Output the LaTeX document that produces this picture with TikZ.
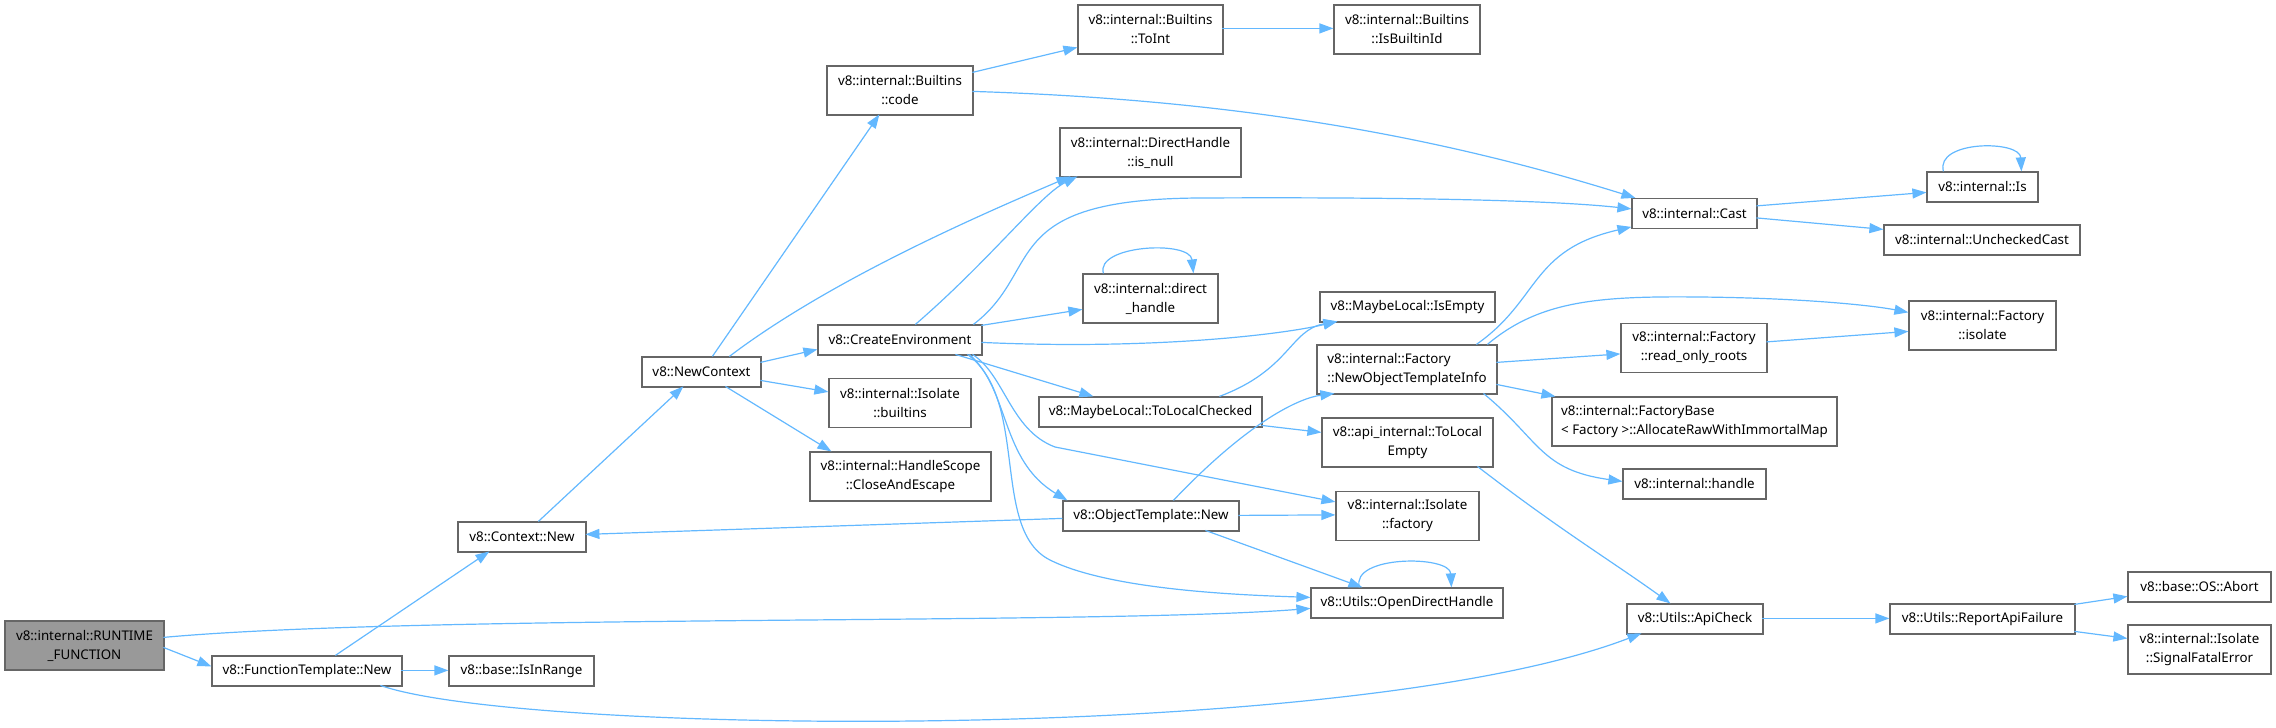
\documentclass[tikz,border=0pt]{standalone}
\usepackage{fontspec}
\setmainfont{Noto Sans}
\usetikzlibrary{arrows.meta,calc}
\definecolor{edgeblue}{HTML}{63B8FF}
\definecolor{boxgray}{HTML}{666666}
\definecolor{rootfill}{HTML}{999999}
\begin{document}
\begin{tikzpicture}[x=1pt,y=-1pt,
  box/.style={draw=boxgray, line width=1.2pt, fill=white, inner sep=0pt, align=center, font=\fontsize{13.33}{19}\selectfont},
  lbox/.style={box, align=left},
  edge/.style={draw=edgeblue, line width=1.2pt, -{Triangle[length=14pt,width=10pt]}},
]
\useasboundingbox (0,0) rectangle (2276,728);

% nodes
\node[box, fill=rootfill, minimum width=159, minimum height=49] (rf) at (84.5,645.5) {v8::internal::RUNTIME\\\_FUNCTION};
\node[box, minimum width=190, minimum height=30] (ft) at (307,671) {v8::FunctionTemplate::New};
\node[box, minimum width=145, minimum height=30] (iir) at (521.5,671) {v8::base::IsInRange};
\node[box, minimum width=128, minimum height=30] (cn) at (522,537) {v8::Context::New};
\node[box, minimum width=119, minimum height=30] (nc) at (701.5,372) {v8::NewContext};
\node[box, minimum width=146, minimum height=49] (bc) at (900,90.5) {v8::internal::Builtins\\::code};
\node[box, minimum width=145, minimum height=49] (ti) at (1150.5,29.5) {v8::internal::Builtins\\::ToInt};
\node[box, minimum width=146, minimum height=49] (ib) at (1407,29.5) {v8::internal::Builtins\\::IsBuiltinId};
\node[box, minimum width=181, minimum height=49] (inl) at (1150.5,152.5) {v8::internal::DirectHandle\\::is\_null};
\node[box, minimum width=135, minimum height=49] (dh) at (1150.5,298.5) {v8::internal::direct\\\_handle};
\node[box, minimum width=164, minimum height=30] (ce) at (900,340) {v8::CreateEnvironment};
\node[box, minimum width=142, minimum height=49] (ibu) at (900,403) {v8::internal::Isolate\\::builtins};
\node[box, minimum width=181, minimum height=49] (hs) at (900.5,476.5) {v8::internal::HandleScope\\::CloseAndEscape};
\node[box, minimum width=223, minimum height=30] (tlc) at (1150.5,412) {v8::MaybeLocal::ToLocalChecked};
\node[box, minimum width=176, minimum height=30] (otn) at (1151,516) {v8::ObjectTemplate::New};
\node[box, minimum width=175, minimum height=30] (ie) at (1407.5,307) {v8::MaybeLocal::IsEmpty};
\node[lbox, minimum width=180, minimum height=49] (noti) at (1407,369.5) {v8::internal::Factory\\::NewObjectTemplateInfo};
\node[box, minimum width=171, minimum height=49] (tle) at (1407.5,442.5) {v8::api\_internal::ToLocal\\Empty};
\node[box, minimum width=143, minimum height=49] (iff) at (1407.5,516) {v8::internal::Isolate\\::factory};
\node[box, minimum width=192, minimum height=30] (odh) at (1407,603) {v8::Utils::OpenDirectHandle};
\node[box, minimum width=125, minimum height=30] (cast) at (1694.5,213.5) {v8::internal::Cast};
\node[box, minimum width=111, minimum height=30] (nis) at (1982.5,187) {v8::internal::Is};
\node[box, minimum width=196, minimum height=30] (uc) at (1982,240) {v8::internal::UncheckedCast};
\node[box, minimum width=147, minimum height=49] (fi) at (1982.5,325.5) {v8::internal::Factory\\::isolate};
\node[box, minimum width=146, minimum height=49] (ror) at (1694,348) {v8::internal::Factory\\::read\_only\_roots};
\node[lbox, minimum width=285, minimum height=49] (fb) at (1694.5,421.5) {v8::internal::FactoryBase\\< Factory >::AllocateRawWithImmortalMap};
\node[box, minimum width=143, minimum height=30] (hd) at (1694.5,484) {v8::internal::handle};
\node[box, minimum width=136, minimum height=30] (ac) at (1695,619) {v8::Utils::ApiCheck};
\node[box, minimum width=185, minimum height=30] (raf) at (1982.5,619) {v8::Utils::ReportApiFailure};
\node[box, minimum width=143, minimum height=30] (oa) at (2199.5,587) {v8::base::OS::Abort};
\node[box, minimum width=143, minimum height=49] (sfe) at (2199.5,649.5) {v8::internal::Isolate\\::SignalFatalError};

% edges
\draw[edge] ($(rf.north west)+(159,27)$) -- ($(ft.north west)+(0,11)$);
\draw[edge] ($(rf.north west)+(159,17)$) .. controls (420,614) and (1100,625) .. ($(odh.north west)+(0,21)$);
\draw[edge] ($(ft.north west)+(124,0)$) -- ($(cn.north west)+(32,30)$);
\draw[edge] ($(ft.north west)+(190,15)$) -- ($(iir.north west)+(0,15)$);
\draw[edge] ($(ft.north west)+(169,30)$) .. controls (520,735) and (1350,745) .. ($(ac.north west)+(15,30)$);
\draw[edge] ($(cn.north west)+(81,0)$) -- ($(nc.north west)+(42,30)$);
\draw[edge] ($(nc.north west)+(71,0)$) -- ($(bc.north west)+(53,49)$);
\draw[edge] ($(nc.north west)+(88,0)$) .. controls (830,280) and (980,215) .. ($(inl.north west)+(11,49)$);
\draw[edge] ($(nc.north west)+(119,6)$) -- ($(ce.north west)+(0,25)$);
\draw[edge] ($(nc.north west)+(119,24)$) -- ($(ibu.north west)+(0,14)$);
\draw[edge] ($(nc.north west)+(84,30)$) -- ($(hs.north west)+(22,0)$);
\draw[edge] ($(ce.north west)+(98,0)$) .. controls (990,260) and (1040,195) .. ($(inl.north west)+(18,49)$);
\draw[edge] ($(ce.north west)+(156,0)$) .. controls (1045,270) and (995,199) .. (1200,198) .. controls (1400,197) and (1550,200) .. ($(cast.north west)+(0,11)$);
\draw[edge] ($(ce.north west)+(164,1)$) -- ($(dh.north west)+(0,36)$);
\draw[edge] ($(ce.north west)+(164,18)$) .. controls (1150,350) and (1280,335) .. ($(ie.north west)+(18,30)$);
\draw[edge] ($(ce.north west)+(138,30)$) -- ($(tlc.north west)+(55,0)$);
\draw[edge] ($(ce.north west)+(155,30)$) .. controls (1005,375) and (1010,430) .. (1055,447) -- ($(iff.north west)+(0,11)$);
\draw[edge] ($(ce.north west)+(152,30)$) .. controls (1010,390) and (1000,460) .. ($(otn.north west)+(5,0)$);
\draw[edge] ($(ce.north west)+(150,30)$) .. controls (1030,400) and (990,530) .. (1050,560) .. controls (1110,590) and (1240,595) .. ($(odh.north west)+(0,10)$);
\draw[edge] ($(bc.north west)+(146,7)$) -- ($(ti.north west)+(0,43)$);
\draw[edge] ($(bc.north west)+(146,26)$) .. controls (1250,100) and (1450,140) .. ($(cast.north west)+(4,0)$);
\draw[edge] ($(ti.north west)+(145,24)$) -- ($(ib.north west)+(0,24)$);
\draw[edge] ($(dh.north west)+(21,0)$) .. controls (1095,245) and (1190,240) .. ($(dh.north west)+(111,0)$);
\draw[edge] ($(otn.north west)+(0,18)$) -- ($(cn.north west)+(128,13)$);
\draw[edge] ($(otn.north west)+(111,0)$) .. controls (1250,420) and (1300,398) .. ($(noti.north west)+(18,49)$);
\draw[edge] ($(otn.north west)+(176,15)$) -- ($(iff.north west)+(0,24)$);
\draw[edge] ($(otn.north west)+(143,30)$) -- ($(odh.north west)+(52,0)$);
\draw[edge] ($(tlc.north west)+(181,0)$) .. controls (1290,370) and (1290,330) .. ($(ie.north west)+(18,30)$);
\draw[edge] ($(tlc.north west)+(223,29)$) -- ($(tle.north west)+(0,15)$);
\draw[edge] ($(noti.north west)+(160,0)$) .. controls (1540,300) and (1530,250) .. ($(cast.north west)+(0,29)$);
\draw[edge] ($(noti.north west)+(171,0)$) .. controls (1540,300) and (1600,296) .. (1700,297) .. controls (1800,298) and (1870,305) .. ($(fi.north west)+(0,12)$);
\draw[edge] ($(noti.north west)+(180,18)$) -- ($(ror.north west)+(0,31)$);
\draw[edge] ($(noti.north west)+(180,40)$) -- ($(fb.north west)+(4,0)$);
\draw[edge] ($(noti.north west)+(167,49)$) .. controls (1540,440) and (1540,470) .. ($(hd.north west)+(0,13)$);
\draw[edge] ($(ror.north west)+(146,19)$) -- ($(fi.north west)+(0,31)$);
\draw[edge] ($(tle.north west)+(156,49)$) .. controls (1560,530) and (1610,560) .. ($(ac.north west)+(44,0)$);
\draw[edge] ($(cast.north west)+(125,8)$) -- ($(nis.north west)+(0,21)$);
\draw[edge] ($(cast.north west)+(125,20)$) -- ($(uc.north west)+(0,5)$);
\draw[edge] ($(nis.north west)+(17,0)$) .. controls (1935,140) and (2020,140) .. ($(nis.north west)+(95,0)$);
\draw[edge] ($(odh.north west)+(49,0)$) .. controls (1350,555) and (1450,555) .. ($(odh.north west)+(141,0)$);
\draw[edge] ($(ac.north west)+(136,15)$) -- ($(raf.north west)+(0,15)$);
\draw[edge] ($(raf.north west)+(185,1)$) -- ($(oa.north west)+(0,25)$);
\draw[edge] ($(raf.north west)+(185,28)$) -- ($(sfe.north west)+(0,14)$);
\end{tikzpicture}
\end{document}
